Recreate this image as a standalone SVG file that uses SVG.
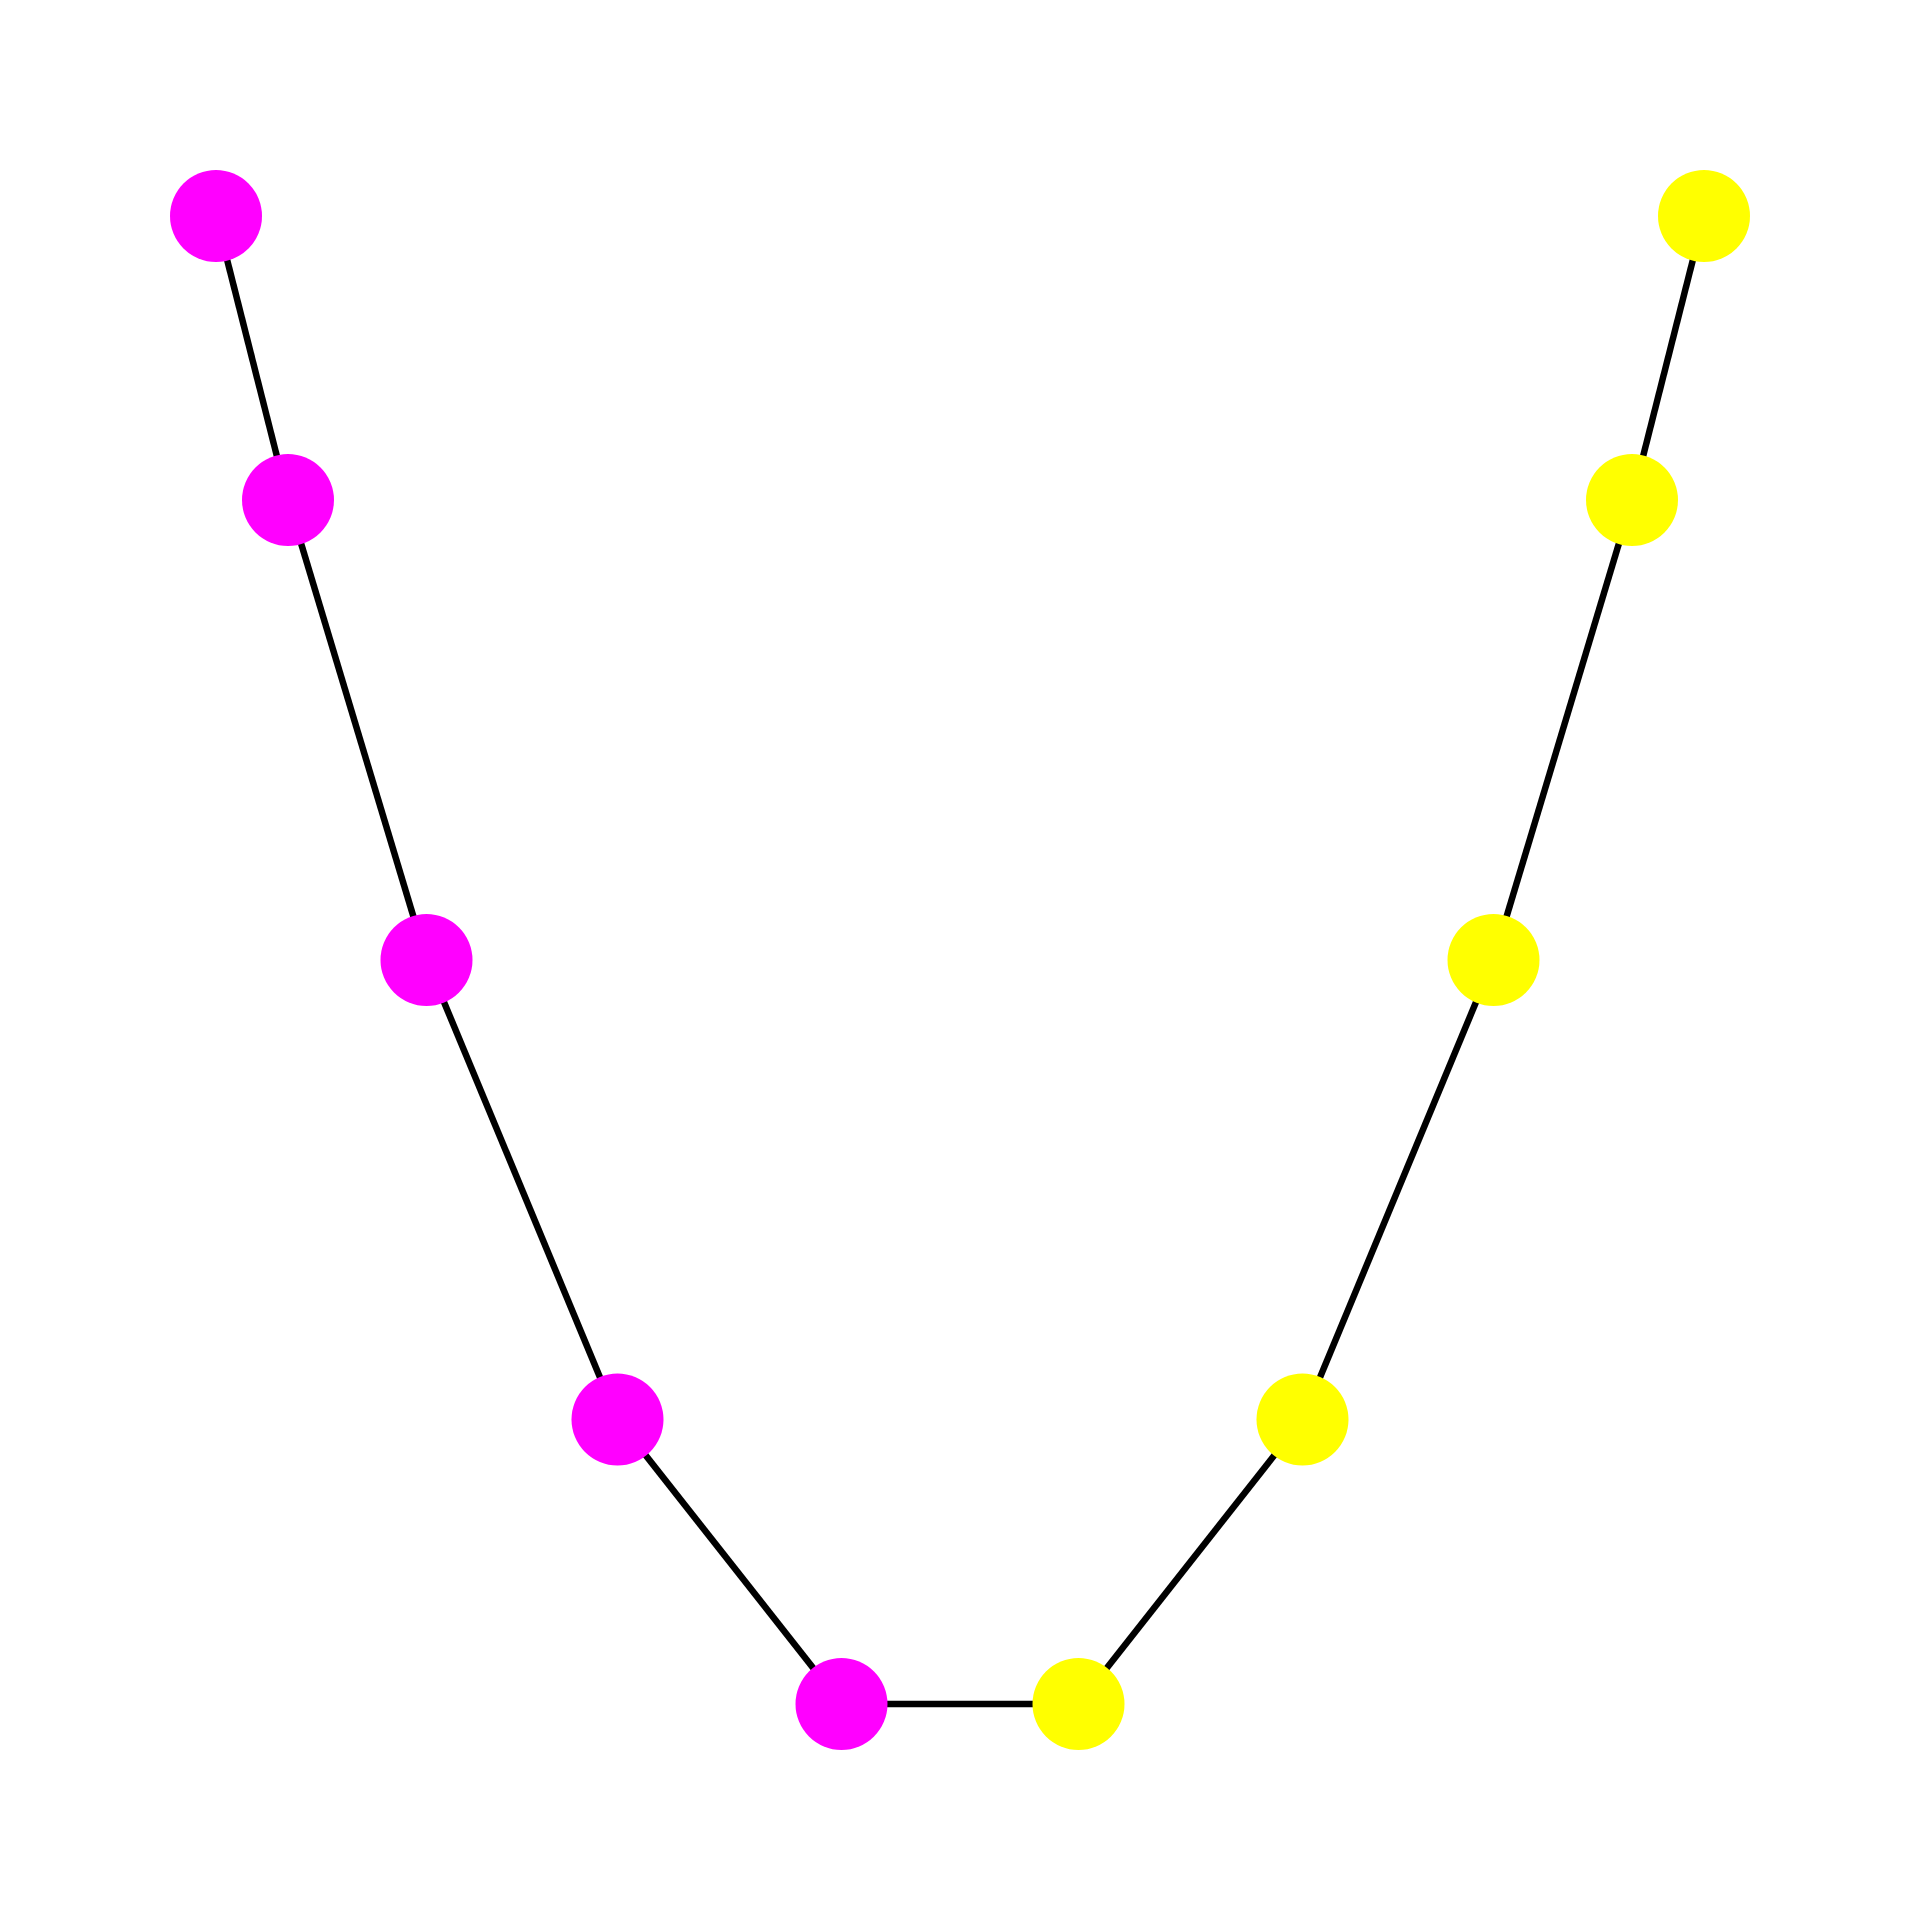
<svg xmlns="http://www.w3.org/2000/svg" width="1920" height="1920" viewBox="0 0 1920 1920">
<style>
.e{stroke:#000;stroke-width:6.5;fill:none}
.m{fill:#ff00ff}
.y{fill:#ffff00}
</style>
<rect width="1920" height="1920" fill="#fff"/>
<g id="edges">
<line class="e" x1="216" y1="216" x2="288" y2="500"/>
<line class="e" x1="288" y1="500" x2="426.5" y2="960"/>
<line class="e" x1="426.5" y1="960" x2="617.5" y2="1419.5"/>
<line class="e" x1="617.5" y1="1419.5" x2="841.5" y2="1704"/>
<line class="e" x1="841.5" y1="1704" x2="1078.5" y2="1704"/>
<line class="e" x1="1078.5" y1="1704" x2="1302.5" y2="1419.5"/>
<line class="e" x1="1302.5" y1="1419.5" x2="1493.5" y2="960"/>
<line class="e" x1="1493.5" y1="960" x2="1632" y2="500"/>
<line class="e" x1="1632" y1="500" x2="1704" y2="216"/>
</g>
<g id="n0"><circle class="m" cx="216" cy="216" r="46"/></g>
<g id="n1"><circle class="m" cx="288" cy="500" r="46"/></g>
<g id="n2"><circle class="m" cx="426.5" cy="960" r="46"/></g>
<g id="n3"><circle class="m" cx="617.5" cy="1419.5" r="46"/></g>
<g id="n4"><circle class="m" cx="841.5" cy="1704" r="46"/></g>
<g id="n5"><circle class="y" cx="1078.5" cy="1704" r="46"/></g>
<g id="n6"><circle class="y" cx="1302.5" cy="1419.5" r="46"/></g>
<g id="n7"><circle class="y" cx="1493.5" cy="960" r="46"/></g>
<g id="n8"><circle class="y" cx="1632" cy="500" r="46"/></g>
<g id="n9"><circle class="y" cx="1704" cy="216" r="46"/></g>
</svg>
